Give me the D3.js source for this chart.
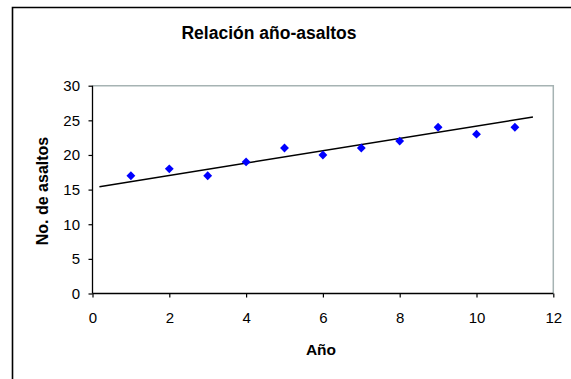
<!DOCTYPE html>
<html>
<head>
<meta charset="utf-8">
<script src="https://cdn.jsdelivr.net/npm/d3@7"></script>
<style>
  html, body { margin: 0; padding: 0; background: #fff; }
  svg { display: block; font-family: Arial, "Liberation Sans", sans-serif; }
</style>
</head>
<body>
<svg id="chart" width="571" height="379"></svg>
<script>
// Year index and number of assaults
const years = [1, 2, 3, 4, 5, 6, 7, 8, 9, 10, 11];
const assaults = [17, 18, 17, 19, 21, 20, 21, 22, 24, 23, 24];

// Linear trend line (start and end points)
const trendX = [0.18, 11.47];
const trendY = [15.42, 25.48];

// Axis ticks
const xTicks = [0, 2, 4, 6, 8, 10, 12];
const yTicks = [0, 5, 10, 15, 20, 25, 30];

const title = "Relación año-asaltos";
const xTitle = "Año";
const yTitle = "No. de asaltos";

const svg = d3.select("#chart");

const plot = { left: 92.5, right: 553.3, top: 85.7, bottom: 293.5 };

const x = d3.scaleLinear().domain([0, 12]).range([plot.left, plot.right]);
const y = d3.scaleLinear().domain([0, 30]).range([plot.bottom, plot.top]);

// Outer chart frame (extends past the visible area on right and bottom)
svg.append("path")
  .attr("d", "M12.5,385 L12.5,7.5 L580,7.5")
  .attr("fill", "none")
  .attr("stroke", "#000")
  .attr("stroke-width", 1.6);

// Plot area border (top and right edges)
svg.append("path")
  .attr("d", `M${plot.left},${plot.top} L${plot.right},${plot.top} L${plot.right},${plot.bottom}`)
  .attr("fill", "none")
  .attr("stroke", "#a6b3b3")
  .attr("stroke-width", 1.5);

// Axes
const xAxis = d3.axisBottom(x).tickValues(xTicks).tickSize(4).tickPadding(15).tickFormat(d3.format("d"));
const yAxis = d3.axisLeft(y).tickValues(yTicks).tickSize(4).tickPadding(8.5).tickFormat(d3.format("d"));

const gx = svg.append("g").attr("transform", `translate(0,${plot.bottom})`).call(xAxis);
const gy = svg.append("g").attr("transform", `translate(${plot.left},0)`).call(yAxis);

[gx, gy].forEach(g => {
  g.select(".domain").attr("stroke", "#000").attr("stroke-width", 1.3);
  g.selectAll(".tick line").attr("stroke", "#000").attr("stroke-width", 1.2);
  g.selectAll(".tick text")
    .attr("fill", "#000")
    .style("font-family", "Arial, 'Liberation Sans', sans-serif")
    .style("font-size", "15px");
});
gx.select(".domain").attr("d", `M${plot.left},0H${plot.right}`);
gy.select(".domain").attr("d", `M0,${plot.bottom}V${plot.top}`);

// Trend line
svg.append("line")
  .attr("x1", x(trendX[0])).attr("y1", y(trendY[0]))
  .attr("x2", x(trendX[1])).attr("y2", y(trendY[1]))
  .attr("stroke", "#000")
  .attr("stroke-width", 1.5);

// Diamond markers
const diamond = d3.symbol().type(d3.symbolDiamond2).size(50);
svg.append("g").selectAll("path")
  .data(years.map((yr, i) => ({ yr, v: assaults[i] })))
  .join("path")
  .attr("d", diamond)
  .attr("transform", d => `translate(${x(d.yr)},${y(d.v)})`)
  .attr("fill", "#0000ff");

// Titles
svg.append("text")
  .attr("x", 269).attr("y", 39.3)
  .attr("text-anchor", "middle")
  .style("font-size", "17.5px").style("font-weight", "bold")
  .text(title);

svg.append("text")
  .attr("x", 321).attr("y", 354.5)
  .attr("text-anchor", "middle")
  .style("font-size", "15.5px").style("font-weight", "bold")
  .text(xTitle);

svg.append("text")
  .attr("transform", "translate(47.5,191) rotate(-90)")
  .attr("text-anchor", "middle")
  .style("font-size", "16px").style("font-weight", "bold")
  .text(yTitle);
</script>
</body>
</html>
